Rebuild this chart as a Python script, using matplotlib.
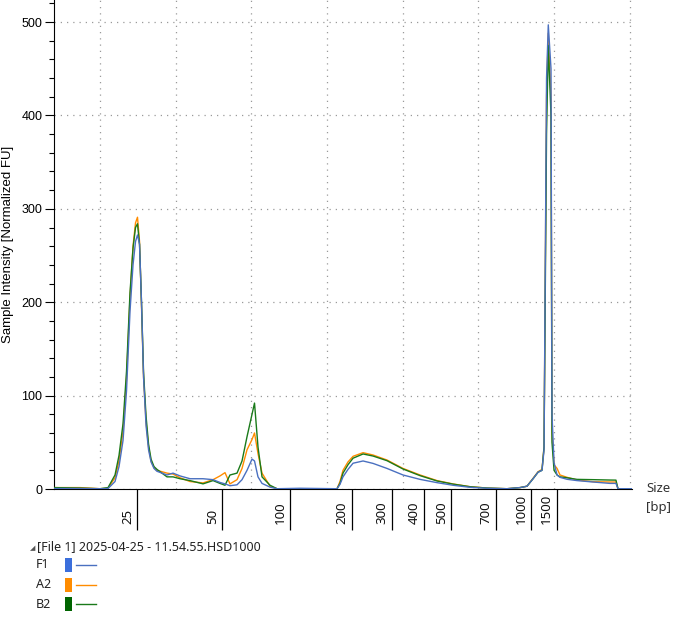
import matplotlib.pyplot as plt
import matplotlib.transforms as mtransforms
from matplotlib.patches import Rectangle
from matplotlib.lines import Line2D

plt.rcParams['font.family'] = ['Liberation Sans', 'DejaVu Sans']

# migration position (arbitrary units, grid every 10)
pos = [3.92, 7.36, 10.0, 11.06, 11.98, 12.51, 13.04, 13.50, 13.96, 14.36,
       14.69, 14.95, 15.22, 15.48, 15.75, 16.08, 16.41, 16.74, 17.13, 17.52,
       18.85, 19.64, 20.57, 21.89, 23.61, 24.93, 25.85, 26.51, 27.17, 28.10,
       28.76, 29.42, 30.08, 30.41, 30.87, 31.40, 32.46, 33.38, 36.42, 41.31,
       41.70, 42.10, 42.76, 43.43, 44.75, 46.07, 47.92, 50.03, 52.28, 54.52,
       56.64, 58.88, 61.13, 63.77, 65.49, 66.41, 67.21, 67.87, 68.39, 68.66,
       68.99, 69.22, 69.58, 69.71, 69.98, 70.38, 70.77, 71.70, 73.02, 75.13,
       77.37, 78.16, 78.43, 80.28]

A2 = [1.5, 1.5, 0.3, 1.0, 12, 30, 62, 118, 205, 260,
      285, 291, 265, 195, 120, 72, 45, 30, 23, 20,
      17, 16, 12, 8, 6.5, 10, 14, 17.5, 5.5, 10,
      22, 42, 53, 60, 38, 17, 3, 0.3, 0.3, 0.3,
      8, 20, 29, 35, 38.9, 36.4, 31, 22, 15, 9,
      5.4, 2.5, 1, 0.3, 1.5, 3, 11.5, 18.5, 21, 45,
      420, 488, 420, 60, 26, 22, 15, 12.5, 9.6, 7.8,
      7.5, 7.5, 0.3, 0.3]

B2 = [1.5, 1.0, 0.3, 1.5, 15, 36, 70, 126, 210, 258,
      280, 284, 262, 200, 125, 78, 48, 32, 24, 21,
      13, 13, 11, 9, 5.5, 9, 6, 4, 15, 17,
      30, 56, 80, 92, 45, 13, 4, 0.3, 0.3, 0.3,
      6, 17, 26, 33, 37.5, 35.3, 30.3, 21.4, 14.3, 8.6,
      5.2, 2.4, 1, 0.3, 1.5, 3, 11, 18, 20, 45,
      380, 475, 400, 50, 20, 15, 13, 12, 10.3, 10,
      9.6, 9.5, 0.3, 0.3]

F1 = [0.5, 0.5, 0.3, 0.5, 8, 24, 52, 105, 190, 240,
      265, 272, 262, 200, 120, 68, 42, 29, 22, 19,
      15, 17, 14, 11, 11, 10, 7, 5.5, 3.5, 4.5,
      10, 20, 32, 30, 13, 6, 2, 0.3, 0.8, 0.3,
      5, 13, 21, 27.6, 30, 27.4, 22, 15, 10.3, 6.8,
      4, 1.8, 0.8, 0.3, 1.5, 3, 11, 18, 20, 42,
      440, 497, 450, 80, 28, 15, 12.5, 10.4, 9, 7.5,
      6, 6, 0.3, 0.3]

# ladder sizes and their migration positions
ladder_bp = ['25', '50', '100', '200', '300', '400', '500', '700', '1000', '1500']
ladder_pos = [14.95, 26.18, 35.10, 43.32, 48.61, 52.83, 56.40, 62.34, 66.97, 70.34]

samples = ['F1', 'A2', 'B2']
line_colors = {'F1': '#4a70c0', 'A2': '#ff8c00', 'B2': '#1a7a1a'}
box_colors = {'F1': '#3b6fdc', 'A2': '#ff8c00', 'B2': '#006400'}
traces = {'F1': F1, 'A2': A2, 'B2': B2}

fig = plt.figure(figsize=(6.84, 6.19), dpi=100)
ax = fig.add_axes([54 / 684, 1 - 489 / 619, (632 - 54) / 684, 489 / 619])

for s in ['A2', 'B2', 'F1']:
    ax.plot(pos, traces[s], color=line_colors[s], lw=1.0, zorder=3)

ax.set_xlim(3.92, 80.28)
ax.set_ylim(0, 523.6)

for sp in ['top', 'right']:
    ax.spines[sp].set_visible(False)
ax.spines['left'].set_color('black')
ax.spines['bottom'].set_color('black')

# dotted grid
ax.set_xticks(range(10, 81, 10), minor=True)
ax.set_yticks(range(0, 501, 100))
ax.set_yticks(range(0, 521, 20), minor=True)
ax.grid(which='minor', axis='x', color='#9a9a9a', linestyle=(0, (1, 4)), linewidth=0.9)
ax.grid(which='major', axis='y', color='#9a9a9a', linestyle=(0, (1, 4)), linewidth=0.9)
ax.tick_params(axis='x', which='minor', length=0)
ax.tick_params(axis='y', which='major', length=6.5, width=0.8, pad=2, labelsize=9)
ax.tick_params(axis='y', which='minor', length=3.6, width=0.8)

# ladder ticks
ax.set_xticks(ladder_pos)
ax.set_xticklabels([])
ax.tick_params(axis='x', which='major', length=29.5, width=0.9, direction='out')
base = mtransforms.blended_transform_factory(ax.transData, ax.transAxes)
lab_tr = mtransforms.offset_copy(base, fig=fig, x=-7.2, y=-25.2, units='points')
for p, lab in zip(ladder_pos, ladder_bp):
    ax.text(p, 0, lab, transform=lab_tr, rotation=90, ha='center', va='bottom',
            fontsize=9.5, family=['Noto Sans', 'DejaVu Sans'], color='#111111')

ax.set_ylabel('Sample Intensity [Normalized FU]', fontsize=9.5)
ax.yaxis.set_label_coords(-40 / 578, 0.5)

fig.text(646 / 684, 1 - 489 / 619, 'Size', fontsize=9.5, va='center', ha='left',
         family=['Noto Sans', 'DejaVu Sans'], color='#333333')
fig.text(646 / 684, 1 - 507 / 619, '[bp]', fontsize=9.5, va='center', ha='left',
         family=['Noto Sans', 'DejaVu Sans'], color='#333333')

# legend panel
fig.text(30 / 684, 1 - 548 / 619, '\u25e2', fontsize=5, va='center', ha='left', color='#555555',
         family=['DejaVu Sans'])
fig.text(37 / 684, 1 - 547 / 619, '[File 1] 2025-04-25 - 11.54.55.HSD1000', fontsize=9,
         va='center', ha='left', family=['Noto Sans', 'DejaVu Sans'], color='#222222')
for i, s in enumerate(samples):
    yc = 565 + i * 19.5
    fig.text(36 / 684, 1 - yc / 619, s, fontsize=9, va='center', ha='left',
             family=['Noto Sans', 'DejaVu Sans'], color='#222222')
    fig.add_artist(Rectangle((65 / 684, 1 - (yc + 7) / 619), 7 / 684, 14 / 619,
                             transform=fig.transFigure, color=box_colors[s], lw=0))
    fig.add_artist(Line2D([76 / 684, 96 / 684], [1 - yc / 619, 1 - yc / 619],
                          transform=fig.transFigure, color=line_colors[s], lw=1))

fig.savefig('out.png', dpi=100)
